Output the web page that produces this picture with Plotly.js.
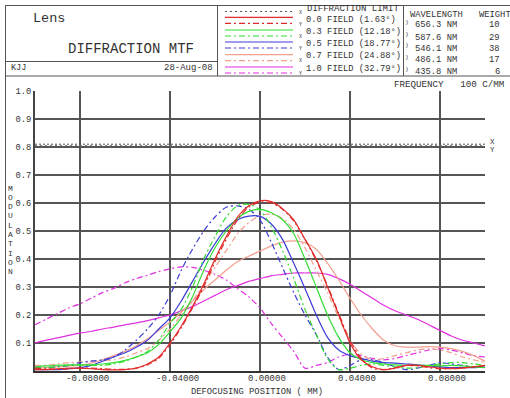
<!DOCTYPE html>
<html><head><meta charset="utf-8">
<script src="https://cdn.plot.ly/plotly-3.0.1.min.js"></script>
<style>html,body{margin:0;padding:0;background:#fff}#c{width:510px;height:398px}</style>
</head><body><div id="c"></div>
<script>
// ---- data ----
const defocus = [-0.100,-0.095,-0.090,-0.085,-0.080,-0.075,-0.070,-0.065,-0.060,-0.055,-0.050,-0.045,-0.040,-0.035,-0.030,-0.025,-0.020,-0.015,-0.010,-0.005,0.000,0.005,0.010,0.015,0.020,0.025,0.030,0.035,0.040,0.045,0.050,0.055,0.060,0.065,0.070,0.075,0.080,0.085,0.090,0.095,0.100];
const field00_T = [0.005,0.005,0.008,0.010,0.010,0.008,0.005,0.004,0.005,0.010,0.025,0.050,0.100,0.160,0.230,0.310,0.400,0.480,0.550,0.590,0.608,0.605,0.580,0.540,0.470,0.400,0.300,0.200,0.100,0.040,0.015,0.005,0.010,0.020,0.020,0.015,0.010,0.008,0.010,0.015,0.020];
const field00_S = [0.010,0.008,0.006,0.008,0.010,0.010,0.008,0.006,0.006,0.010,0.022,0.045,0.095,0.155,0.225,0.300,0.390,0.470,0.540,0.585,0.603,0.600,0.578,0.535,0.470,0.395,0.305,0.205,0.110,0.045,0.010,0.005,0.012,0.020,0.018,0.012,0.008,0.010,0.012,0.015,0.018];
const field03_T = [0.015,0.018,0.020,0.022,0.022,0.022,0.025,0.030,0.038,0.050,0.065,0.095,0.140,0.190,0.265,0.360,0.440,0.500,0.545,0.570,0.577,0.565,0.540,0.490,0.400,0.300,0.200,0.120,0.065,0.040,0.030,0.025,0.022,0.020,0.020,0.020,0.018,0.020,0.018,0.015,0.012];
const field03_S = [0.010,0.012,0.015,0.020,0.020,0.020,0.020,0.025,0.035,0.050,0.070,0.110,0.170,0.220,0.300,0.400,0.480,0.550,0.590,0.595,0.575,0.515,0.430,0.330,0.220,0.130,0.045,0.005,0.010,0.020,0.025,0.020,0.015,0.010,0.012,0.020,0.025,0.030,0.030,0.025,0.020];
const field05_T = [0.005,0.005,0.005,0.008,0.012,0.020,0.035,0.050,0.065,0.085,0.110,0.150,0.190,0.250,0.320,0.390,0.455,0.510,0.540,0.553,0.552,0.525,0.470,0.385,0.295,0.200,0.120,0.075,0.055,0.045,0.035,0.030,0.028,0.025,0.022,0.018,0.015,0.012,0.012,0.012,0.015];
const field05_S = [0.010,0.012,0.015,0.020,0.030,0.035,0.040,0.050,0.075,0.110,0.150,0.200,0.270,0.360,0.435,0.500,0.550,0.585,0.590,0.578,0.540,0.460,0.370,0.280,0.200,0.130,0.050,0.005,0.020,0.040,0.040,0.030,0.015,0.005,0.010,0.020,0.030,0.025,0.020,0.015,0.015];
const field07_T = [0.010,0.012,0.015,0.018,0.020,0.028,0.040,0.055,0.070,0.090,0.115,0.145,0.175,0.210,0.250,0.290,0.325,0.360,0.390,0.410,0.428,0.447,0.460,0.465,0.458,0.435,0.385,0.325,0.260,0.200,0.150,0.110,0.090,0.085,0.085,0.087,0.085,0.080,0.070,0.055,0.035];
const field07_S = [0.020,0.020,0.025,0.030,0.032,0.035,0.038,0.040,0.050,0.065,0.080,0.110,0.150,0.200,0.250,0.310,0.370,0.430,0.490,0.530,0.555,0.560,0.545,0.505,0.440,0.360,0.280,0.190,0.110,0.060,0.040,0.045,0.055,0.065,0.075,0.080,0.075,0.065,0.050,0.040,0.030];
const field10_T = [0.100,0.110,0.118,0.127,0.135,0.142,0.150,0.157,0.165,0.172,0.180,0.190,0.200,0.215,0.230,0.250,0.270,0.290,0.305,0.320,0.330,0.340,0.345,0.350,0.350,0.350,0.345,0.330,0.310,0.285,0.260,0.235,0.215,0.200,0.185,0.165,0.145,0.125,0.110,0.100,0.090];
const field10_S = [0.165,0.185,0.205,0.225,0.240,0.260,0.280,0.295,0.315,0.330,0.342,0.355,0.365,0.372,0.370,0.360,0.345,0.325,0.295,0.265,0.225,0.170,0.120,0.070,0.010,0.020,0.030,0.050,0.060,0.055,0.045,0.040,0.045,0.055,0.065,0.075,0.080,0.075,0.065,0.055,0.050];
const diffLimitX = [-0.1, 0.1];
const diffLimit_X = [0.810, 0.810];
const diffLimit_Y = [0.805, 0.805];
const fieldLabels = ["0.0 FIELD (1.63°)","0.3 FIELD (12.18°)","0.5 FIELD (18.77°)","0.7 FIELD (24.88°)","1.0 FIELD (32.79°)"];
const wavelengths = ["656.3 NM","587.6 NM","546.1 NM","486.1 NM","435.8 NM"];
const weights = ["10","29","38","17","6"];
const xTicks = [-0.08,-0.04,0,0.04,0.08];
const xTickText = ["-0.08000","-0.04000","0.00000","0.04000","0.08000"];
const yTicks = [0.1,0.2,0.3,0.4,0.5,0.6,0.7,0.8,0.9,1.0];
const yTickText = ["0.1","0.2","0.3","0.4","0.5","0.6","0.7","0.8","0.9","1.0"];
const xRange = [-0.1, 0.1];
const yRange = [0, 1];

// ---- styling ----
const FONT = "Liberation Mono, Courier New, monospace";
const colors = ["#e22a2a","#33dd33","#3c3cd6","#f2a090","#e030e0"];
const DD = "6px,3px,2px,3px";
const GRID = '#555555';
const series = [
  [field10_T, field10_S],[field07_T, field07_S],[field05_T, field05_S],[field03_T, field03_S],[field00_T, field00_S]
];
const colIdx = [4,3,2,1,0];
const traces = [];
traces.push({x: diffLimitX, y: diffLimit_X, mode:'lines', line:{color:'#555', width:1, dash:'2px,2px'}, hoverinfo:'skip'});
traces.push({x: diffLimitX, y: diffLimit_Y, mode:'lines', line:{color:'#777', width:1, dash:'2px,3px'}, hoverinfo:'skip'});
series.forEach((pair, k) => {
  const c = colors[colIdx[k]];
  traces.push({x: defocus, y: pair[1], mode:'lines', line:{color:c, width:1.2, dash:DD, shape:'spline', smoothing:0.8}});
  traces.push({x: defocus, y: pair[0], mode:'lines', line:{color:c, width:1.2, shape:'spline', smoothing:0.8}});
});

// pixel -> paper helpers (plot area: x 35..485, y 91..371, chosen so grid lines fall on whole pixels)
const L=35, R=485, T=91, B=371;
const px = v => (v - L)/(R - L);
const py = v => (B - v)/(B - T);

const shapes = [];
const hline = (x0,x1,y,col,w,dash) => shapes.push({type:'line', xref:'paper', yref:'paper', x0:px(x0), x1:px(x1), y0:py(y), y1:py(y), line:{color:col||'#444', width:w||1, dash:dash||'solid'}});
const vline = (x,y0,y1,col,w) => shapes.push({type:'line', xref:'paper', yref:'paper', x0:px(x), x1:px(x), y0:py(y0), y1:py(y1), line:{color:col||'#444', width:w||1}});
// frame
hline(5, 512, 5.5, '#555', 1);
vline(5.5, 5, 400, '#555', 1);
hline(5, 512, 76, '#555', 1);
hline(5, 217.5, 61.5, '#555', 1);
vline(217.5, 5, 76, '#555', 1);
vline(403.5, 5, 76, '#555', 1);
// legend samples
const sampleY = [17.3, 30, 42, 54.7, 67];
hline(225, 293, 11.5, '#555', 1, '2px,3px');
for (let i=0;i<5;i++){
  hline(225, 293, sampleY[i], colors[i], 1.2);
  hline(225, 293, sampleY[i]+6, colors[i], 1.2, DD);
}

const ann = [];
const txt = (x,y,t,size,xa,extra) => ann.push(Object.assign({xref:'paper', yref:'paper', x:px(x), y:py(y), text:t, showarrow:false, xanchor:xa||'left', yanchor:'middle', borderpad:0, font:{family:FONT, size:size, color:'#333'}}, extra||{}));
txt(32, 18, 'Lens', 13.5);
txt(67, 49, 'DIFFRACTION MTF', 14);
txt(10, 67.5, 'KJJ', 8.5);
txt(214, 67.5, '28-Aug-08', 9, 'right');
txt(306, 9.5, 'DIFFRACTION LIMIT', 9);
const fieldY = [19.5, 31.7, 43.8, 56.2, 69];
for (let i=0;i<5;i++){
  txt(305, fieldY[i], fieldLabels[i], 8.8);
}
for (let i=0;i<6;i++) txt(300.5, 12.5 + i*12.2, i%2 ? 'Y' : 'X', 5, 'center');
txt(409, 15, 'WAVELENGTH', 8.8);
txt(478, 15, 'WEIGHT', 8.8);
const rowY = [25.5, 37.5, 49, 60.5, 72];
for (let i=0;i<5;i++){
  txt(414, rowY[i], wavelengths[i], 8.8);
  txt(501, rowY[i], weights[i], 8.8, 'right');
  txt(407, rowY[i]-3, ')', 6, 'center');
}
txt(393, 84, 'FREQUENCY   100 C/MM', 9.2);
txt(492, 142, 'X', 7.5, 'center');
txt(492, 150, 'Y', 7.5, 'center');
const yTitle = 'MODULATION';
for (let i=0;i<yTitle.length;i++) txt(10.5, 188 + i*9.3, yTitle[i], 8, 'center');
txt(257, 392, 'DEFOCUSING POSITION ( MM)', 8.8, 'center');
// x tick labels placed through the x scale, nudged right like the reference
xTicks.forEach((v,i) => ann.push({xref:'x', yref:'paper', x:v, y:py(379), xshift:7, text:xTickText[i], showarrow:false,
  xanchor:'center', yanchor:'middle', font:{family:FONT, size:9, color:'#333'}}));

const layout = {
  width:510, height:398,
  margin:{l:L, r:510-R, t:T, b:398-B, pad:0},
  paper_bgcolor:'#fff', plot_bgcolor:'#fff',
  showlegend:false,
  font:{family:FONT, size:9, color:'#333'},
  xaxis:{range:xRange, tickvals:xTicks, showticklabels:false, showgrid:true, gridcolor:GRID, gridwidth:2,
         zeroline:false, showline:true, linecolor:'#333', linewidth:2, ticks:''},
  yaxis:{range:yRange, tickvals:yTicks, ticktext:yTickText, showgrid:true, gridcolor:GRID, gridwidth:2,
         zeroline:false, showline:true, linecolor:'#444', linewidth:2, ticks:'',
         tickfont:{family:FONT, size:8.8, color:'#333'}},
  shapes:shapes, annotations:ann
};
Plotly.newPlot('c', traces, layout, {displayModeBar:false});
</script></body></html>
